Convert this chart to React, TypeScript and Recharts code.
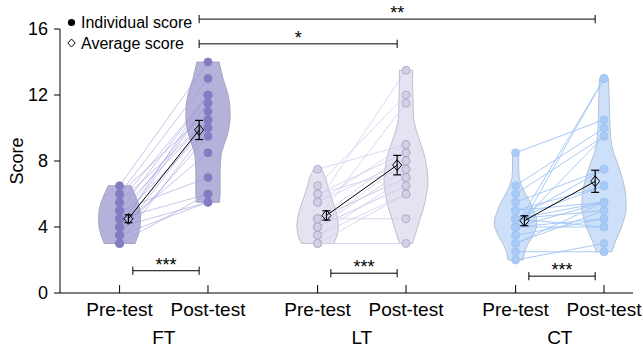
import { ComposedChart, Scatter, XAxis, YAxis, ReferenceLine, Legend } from 'recharts';

const groups = ['FT', 'LT', 'CT'];
const phases = ['Pre-test', 'Post-test'];

// x position of every column on the numeric x axis (pre, post per group)
const colPos = [1, 2, 3.24, 4.24, 5.48, 6.48];
const groupPos = [1.5, 3.74, 5.98];
const yTicks = [0, 4, 8, 12, 16];

// paired scores: same index = same student
const ftPre = [6.5, 6, 5.5, 5, 4.5, 4, 6, 3.5, 5, 4.5, 3, 4, 5.5, 3.5, 4, 5, 4.5, 3, 3.5, 4];
const ftPost = [14, 13, 12, 12, 11.5, 12, 11, 10.5, 10.5, 10, 10, 11.5, 10.5, 9.5, 8.5, 7, 6, 6, 5.5, 5.5];
const ltPre = [7.5, 6.5, 6, 5.5, 4.5, 4.5, 4, 4, 3.5, 3, 4, 3.5, 4.5, 4.5, 5.5, 4, 5.5, 3, 6, 4.5];
const ltPost = [9, 12, 8.5, 13.5, 11.5, 4.5, 8, 7.5, 7, 3, 6.5, 6, 8.5, 7, 9, 6.5, 8, 6, 7.5, 7];
const ctPre = [8.5, 6.5, 6, 4, 3.5, 5.5, 5, 4, 4.5, 4.5, 4.5, 4, 5, 3.5, 3, 4.5, 4, 2.5, 2, 4.5, 4, 3];
const ctPost = [10.5, 10, 9.5, 13, 13, 7.5, 6.5, 5.5, 5.5, 5, 6.5, 4.5, 5.5, 4.5, 5, 4, 9.5, 2.5, 3, 7.5, 4, 5.5];

// group means and standard errors (pre, post)
const meanPre = [4.5, 4.7, 4.38];
const meanPost = [9.88, 7.75, 6.77];
const semPre = [0.24, 0.28, 0.3];
const semPost = [0.58, 0.59, 0.67];

// violin density (relative half width) from lowest score upward, 0.5 steps
const violinLo = [3, 5.5, 3, 3, 2, 2.5];
const ftPreDensity = [0.7, 0.84, 0.93, 0.95, 0.93, 0.84, 0.68, 0.52];
const ftPostDensity = [0.52, 0.55, 0.55, 0.55, 0.55, 0.57, 0.61, 0.73, 0.86, 0.95, 1, 1, 0.98, 0.91, 0.8, 0.68, 0.59, 0.5];
const ltPreDensity = [0.73, 0.89, 0.94, 0.91, 0.82, 0.7, 0.57, 0.45, 0.36, 0.18];
const ltPostDensity = [0.3, 0.41, 0.53, 0.64, 0.76, 0.86, 0.93, 0.99, 0.99, 0.95, 0.89, 0.8, 0.68, 0.55, 0.43, 0.35, 0.33, 0.32, 0.31, 0.3, 0.3, 0.3];
const ctPreDensity = [0.34, 0.41, 0.57, 0.8, 0.95, 0.95, 0.82, 0.66, 0.45, 0.27, 0.16, 0.14, 0.14, 0.14];
const ctPostDensity = [0.36, 0.48, 0.64, 0.8, 0.91, 1, 1, 0.98, 0.91, 0.82, 0.7, 0.57, 0.43, 0.34, 0.3, 0.27, 0.26, 0.25, 0.24, 0.23, 0.22, 0.2];

// significance brackets: column pairs, height (score units), marks
const sigPairs = [[0, 1], [2, 3], [4, 5], [1, 3], [1, 5]];
const sigLevels = [1.35, 1.2, 1.02, 15.1, 16.6];
const sigMarks = ['***', '***', '***', '*', '**'];

const legendItems = [
  { label: 'Individual score', icon: 'dot' },
  { label: 'Average score', icon: 'diamond' },
];

const FONT = "'Liberation Sans', Arial, sans-serif";
const X_DOMAIN = [0.326, 6.808];
const STEP = 0.5;
const VIOLIN_HALF = 0.25;
const MEAN_SHIFT = 0.1;

const palette = [
  { violin: '#b4b2da', edge: '#a8a7c0', dot: '#807dc2', dotEdge: '#807dc2', line: '#9a97d8', lineOpacity: 0.55 },
  { violin: '#e4e3f2', edge: '#c0bfcd', dot: '#d2cfe7', dotEdge: '#a9a7c0', line: '#d2d0ef', lineOpacity: 0.8 },
  { violin: '#cde0f9', edge: '#b4c1d2', dot: '#a8caf6', dotEdge: '#a0c3f2', line: '#9ec4f5', lineOpacity: 0.9 },
];

const pairs = [[ftPre, ftPost], [ltPre, ltPost], [ctPre, ctPost]];
const densities = [ftPreDensity, ftPostDensity, ltPreDensity, ltPostDensity, ctPreDensity, ctPostDensity];

function violinOutline(center: number, lo: number, density: number[]) {
  const right = density.map((d, i) => ({ x: center + d * VIOLIN_HALF, y: lo + i * STEP }));
  const left = density.map((d, i) => ({ x: center - d * VIOLIN_HALF, y: lo + i * STEP })).reverse();
  return [...right, ...left, right[0]];
}

const bracketEnd = (c: number) => colPos[c] + (c % 2 === 0 ? 0.15 : -0.1);

const noShape = () => <g />;

const makeDot = (fill: string, stroke: string) => (p: any) => (
  <circle cx={p.cx} cy={p.cy} r={4} fill={fill} stroke={stroke} strokeWidth={0.8} />
);

const diamond = (p: any) => (
  <polygon
    points={`${p.cx},${p.cy - 5.5} ${p.cx + 4.5},${p.cy} ${p.cx},${p.cy + 5.5} ${p.cx - 4.5},${p.cy}`}
    fill="none" stroke="#000" strokeWidth={1}
  />
);

const cap = (p: any) => (
  <line x1={p.cx - 4} x2={p.cx + 4} y1={p.cy} y2={p.cy} stroke="#000" strokeWidth={1.2} />
);

function LegendBox() {
  return (
    <div style={{ fontFamily: FONT, fontSize: 16, lineHeight: '21px', color: '#000', textAlign: 'left' }}>
      {legendItems.map((it) => (
        <div key={it.label} style={{ display: 'flex', alignItems: 'center', whiteSpace: 'nowrap', height: 21 }}>
          <svg width={15} height={21}>
            {it.icon === 'dot'
              ? <circle cx={7.5} cy={10.5} r={3.6} fill="#000" />
              : <polygon points="7.5,6 11.2,10 7.5,14 3.8,10" fill="none" stroke="#000" strokeWidth={1} />}
          </svg>
          <span style={{ marginLeft: 2 }}>{it.label}</span>
        </div>
      ))}
    </div>
  );
}

export default function App() {
  const tickStyle = { fill: '#000', fontSize: 19, fontFamily: FONT };
  const means = groups.map((_, g) => [
    { x: colPos[2 * g] + MEAN_SHIFT, y: meanPre[g], sem: semPre[g] },
    { x: colPos[2 * g + 1] - MEAN_SHIFT, y: meanPost[g], sem: semPost[g] },
  ]);
  return (
    <div style={{ position: 'absolute', left: 0, top: 0, width: 643, height: 353, background: '#fff' }}>
      <ComposedChart width={643} height={353} margin={{ top: 29, right: 10, bottom: 0, left: 0 }}>
        <XAxis type="number" dataKey="x" domain={X_DOMAIN} allowDataOverflow ticks={colPos} interval={0}
          tickFormatter={(v: number) => phases[colPos.indexOf(v) % 2]} height={28}
          tickLine={false} tickSize={0} tickMargin={10} axisLine={{ stroke: '#000' }} tick={tickStyle} />
        <XAxis xAxisId="grp" type="number" dataKey="x" domain={X_DOMAIN} allowDataOverflow ticks={groupPos} interval={0}
          tickFormatter={(v: number) => groups[groupPos.indexOf(v)]} height={32}
          tickLine={false} tickSize={0} tickMargin={9.5} axisLine={false} tick={tickStyle} />
        <YAxis type="number" dataKey="y" domain={[0, 16]} allowDataOverflow ticks={yTicks} width={60}
          tickSize={6} tickMargin={6} axisLine={{ stroke: '#000' }} tickLine={{ stroke: '#000' }}
          tick={{ ...tickStyle, fontSize: 18 }}
          label={{ value: 'Score', angle: -90, position: 'insideLeft', offset: 17,
            style: { textAnchor: 'middle', fontSize: 18, fill: '#000', fontFamily: FONT } }} />
        <Legend layout="vertical" align="center" verticalAlign="middle"
          wrapperStyle={{ left: 64, top: 12, width: 'auto', height: 'auto' }} content={() => <LegendBox />} />

        {/* binds the group-label axis so its ticks are drawn */}
        <Scatter xAxisId="grp" data={groupPos.map((x) => ({ x, y: 0 }))} shape={noShape} isAnimationActive={false} />

        {densities.map((d, c) => {
          const col = palette[Math.floor(c / 2)];
          return (
            <Scatter key={`v${c}`} data={violinOutline(colPos[c], violinLo[c], d)} shape={noShape}
              line={{ stroke: col.edge, strokeWidth: 1, fill: col.violin }} lineJointType="linear"
              isAnimationActive={false} />
          );
        })}

        {pairs.map(([pre, post], g) =>
          pre.map((v, i) => (
            <Scatter key={`p${g}-${i}`} data={[{ x: colPos[2 * g], y: v }, { x: colPos[2 * g + 1], y: post[i] }]}
              shape={noShape} line={{ stroke: palette[g].line, strokeWidth: 1, strokeOpacity: palette[g].lineOpacity }}
              isAnimationActive={false} />
          ))
        )}

        {pairs.map(([pre, post], g) => [pre, post].map((vals, k) => (
          <Scatter key={`d${g}-${k}`} data={vals.map((v) => ({ x: colPos[2 * g + k], y: v }))}
            shape={makeDot(palette[g].dot, palette[g].dotEdge)} isAnimationActive={false} />
        )))}

        {/* error bars: mean ± sem */}
        {means.map((pts, g) => pts.map((m, k) => (
          <Scatter key={`e${g}-${k}`} isAnimationActive={false} shape={cap}
            data={[{ x: m.x, y: m.y - m.sem }, { x: m.x, y: m.y + m.sem }]}
            line={{ stroke: '#000', strokeWidth: 1.2 }} />
        )))}

        {means.map((pts, g) => (
          <Scatter key={`m${g}`} isAnimationActive={false} data={pts}
            line={{ stroke: '#000', strokeWidth: 1 }} shape={diamond} />
        ))}

        {colPos.map((p) => (
          <ReferenceLine key={`t${p}`} segment={[{ x: p, y: 0 }, { x: p, y: 0.48 }]} stroke="#000" ifOverflow="visible" />
        ))}

        {sigPairs.map(([a, b], s) => {
          const x1 = bracketEnd(a);
          const x2 = bracketEnd(b);
          const y = sigLevels[s];
          return [
            <ReferenceLine key={`s${s}`} segment={[{ x: x1, y }, { x: x2, y }]} stroke="#000" ifOverflow="visible"
              label={{ value: sigMarks[s], position: 'top', offset: 0, fill: '#000', fontSize: 18, fontFamily: FONT }} />,
            <ReferenceLine key={`sa${s}`} segment={[{ x: x1, y: y - 0.25 }, { x: x1, y: y + 0.25 }]} stroke="#000" ifOverflow="visible" />,
            <ReferenceLine key={`sb${s}`} segment={[{ x: x2, y: y - 0.25 }, { x: x2, y: y + 0.25 }]} stroke="#000" ifOverflow="visible" />,
          ];
        })}
      </ComposedChart>
    </div>
  );
}
